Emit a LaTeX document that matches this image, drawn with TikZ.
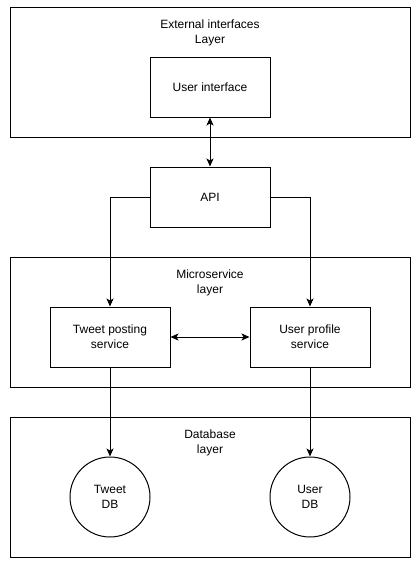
\documentclass[tikz,border=0pt]{standalone}
\usepackage{fontspec}
\setmainfont{Liberation Sans}
\usetikzlibrary{arrows.meta}
\begin{document}
\begin{tikzpicture}[x=1pt,y=-1pt,
  box/.style={draw,line width=1pt,minimum width=120pt,minimum height=60pt,align=center,inner sep=0pt,font=\fontsize{12}{15}\selectfont},
  layer/.style={draw,line width=1pt,minimum width=400pt,inner sep=0pt},
  db/.style={draw,circle,line width=1pt,minimum size=80pt,align=center,inner sep=0pt,font=\fontsize{12}{15}\selectfont},
  lbl/.style={align=center,inner sep=0pt,font=\fontsize{12}{15}\selectfont},
  conn/.style={line width=1pt,-{Stealth[length=8pt,width=7pt,inset=2pt]}},
  conn2/.style={line width=1pt,{Stealth[length=8pt,width=7pt,inset=2pt]}-{Stealth[length=8pt,width=7pt,inset=2pt]}}]
\useasboundingbox (0,0) rectangle (416,563);
\node[layer,minimum height=130pt] (L1) at (210,72) {};
\node[layer,minimum height=130pt] (L2) at (210,322) {};
\node[layer,minimum height=140pt] (L3) at (210,487) {};
\node[lbl] (t1) at (210,33) {External interfaces\\Layer};
\node[lbl] (t2) at (210,283) {Microservice\\layer};
\node[lbl] (t3) at (210,443) {Database\\layer};
\node[box] (ui) at (210,87) {User interface};
\node[box] (api) at (210,197) {API};
\node[box] (tps) at (110,337) {Tweet posting\\service};
\node[box] (ups) at (310,337) {User profile\\service};
\node[db] (tdb) at (110,497) {Tweet\\DB};
\node[db] (udb) at (310,497) {User\\DB};
\draw[conn2] (ui) -- (api);
\draw[conn] (api.west) -| (tps.north);
\draw[conn] (api.east) -| (ups.north);
\draw[conn2] (tps) -- (ups);
\draw[conn] (tps) -- (tdb);
\draw[conn] (ups) -- (udb);
\end{tikzpicture}
\end{document}
